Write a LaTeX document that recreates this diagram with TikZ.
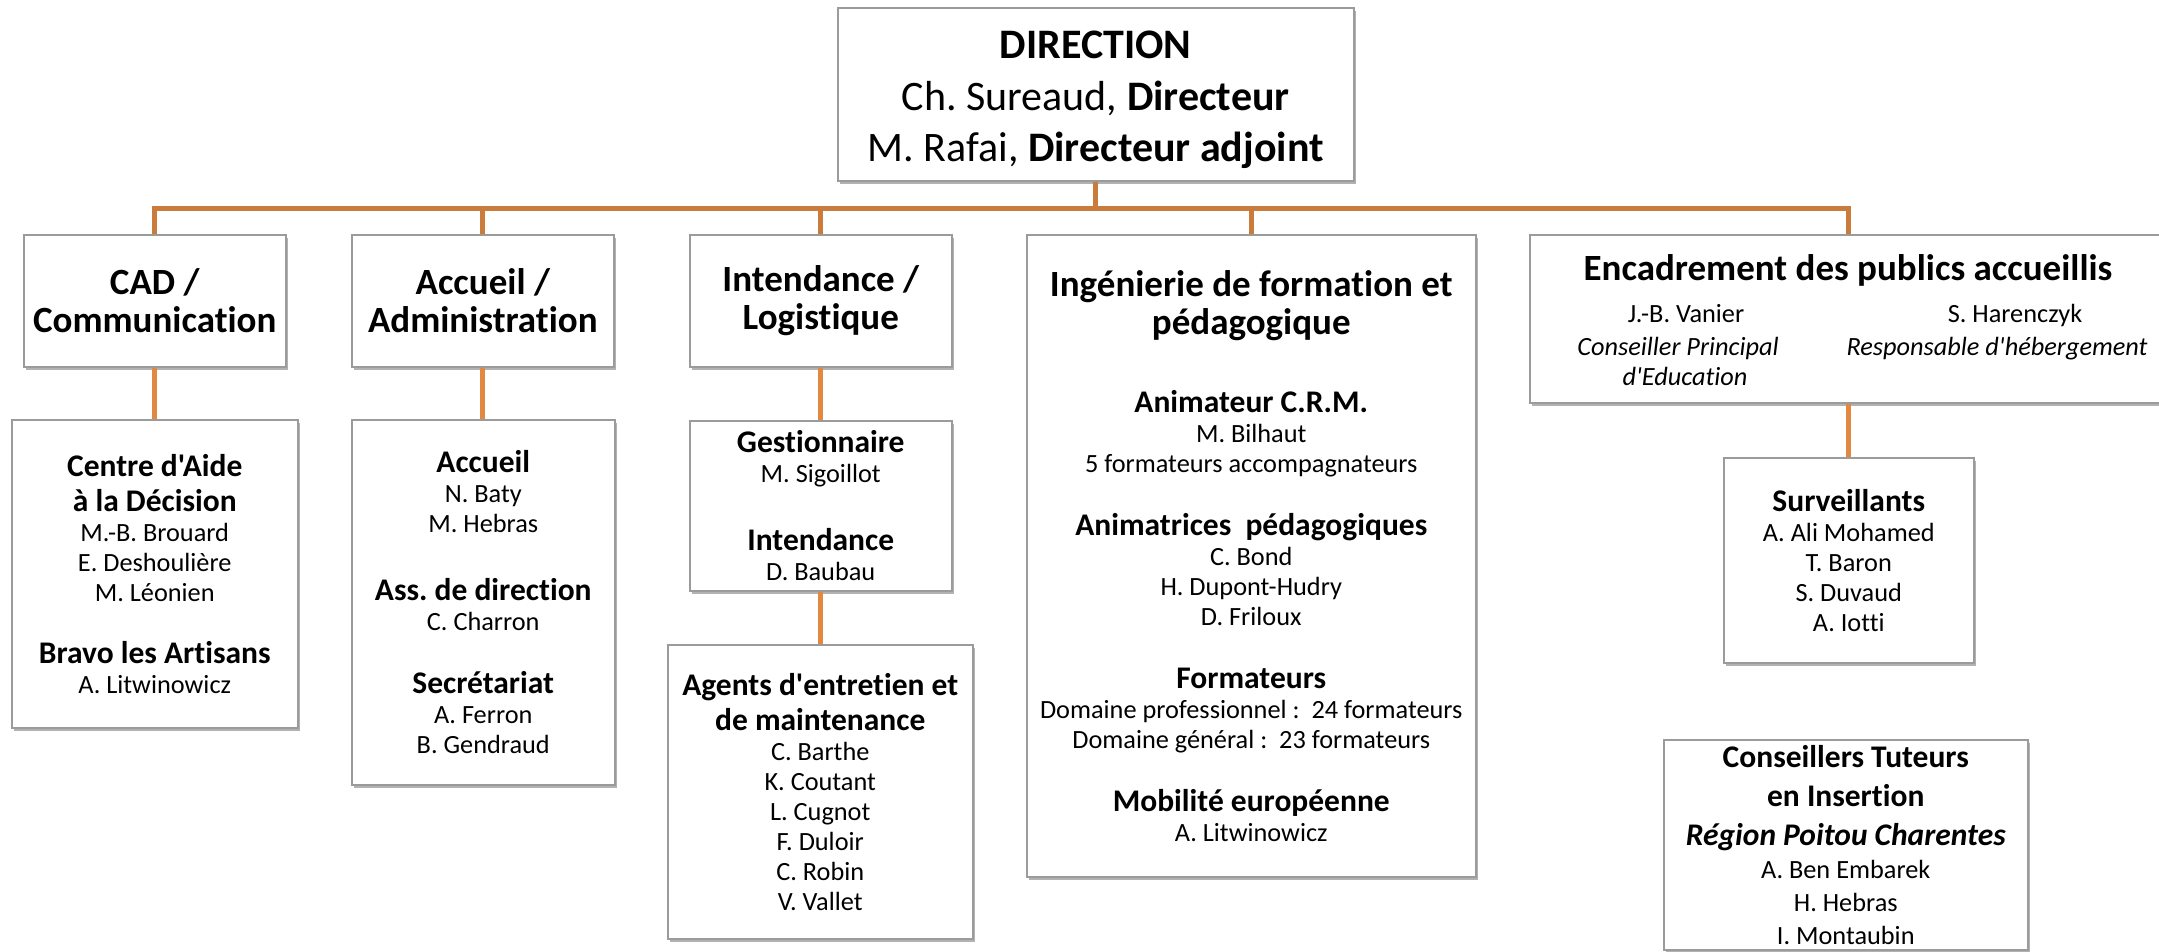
\documentclass[tikz,border=0pt]{standalone}
\usepackage{fontspec}
\setmainfont{Carlito}[Ligatures={NoCommon,TeXOff}]
\usetikzlibrary{shadows}
\definecolor{lineA}{RGB}{201,124,60}
\definecolor{lineB}{RGB}{226,136,64}
\definecolor{boxline}{RGB}{155,155,155}
\newcommand\hd[1]{{\fontsize{31.5}{35}\selectfont\bfseries #1\par}}
\newcommand\nm[1]{{\fontsize{26.3}{30}\selectfont #1\par}}
\newcommand\ttl[1]{{\fontsize{37}{38}\selectfont\bfseries #1\par}}
\newcommand\gp[1]{\vspace*{#1pt}}
\newcommand\pb[2]{\parbox{#1pt}{\centering #2}}
\tikzset{
  box/.style={draw=boxline, line width=1.5pt, fill=white, inner sep=0pt,
    anchor=north west,
    drop shadow={shadow xshift=2pt, shadow yshift=-3.5pt, opacity=0.3, fill=black}},
  conA/.style={draw=lineA, line width=5pt},
  conB/.style={draw=lineB, line width=5pt},
  txt/.style={inner sep=0pt, anchor=base},
  nmf/.style={font=\fontsize{26.3}{30}\selectfont},
  itf/.style={font=\fontsize{26.3}{30}\selectfont\itshape},
}
\begin{document}
\frenchspacing
\begin{tikzpicture}[x=1pt,y=-1pt]
\useasboundingbox (0,0) rectangle (2159,951);
\fill[white] (0,0) rectangle (2159,951);
\clip (0,0) rectangle (2159,951);

% direction
\node[box, minimum width=516pt, minimum height=173pt] (dir) at (837,7)
  {\pb{516}{\gp{12}{\fontsize{42}{51.5}\selectfont \textbf{DIRECTION}\par
   Ch. Sureaud, \textbf{Directeur}\par
   M. Rafai, \textbf{Directeur adjoint}\par}}};

% level 1
\node[box, minimum width=262pt, minimum height=132pt] (cad) at (23,234)
  {\pb{262}{\ttl{CAD /}\ttl{Communication}}};
\node[box, minimum width=262pt, minimum height=132pt] (acc) at (351,234)
  {\pb{262}{\ttl{Accueil /}\ttl{Administration}}};
\node[box, minimum width=262pt, minimum height=132pt] (int) at (689,234)
  {\pb{262}{\ttl{Intendance /}\ttl{Logistique}}};
\node[box, minimum width=449pt, minimum height=642pt] (ing) at (1026,234)
  {\pb{449}{\ttl{Ingénierie de formation et}\ttl{pédagogique}\gp{43}%
   \hd{Animateur C.R.M.}\nm{M. Bilhaut}\nm{5 formateurs accompagnateurs}\gp{28}%
   \hd{Animatrices\ \ pédagogiques}\nm{C. Bond}\nm{H. Dupont-Hudry}\nm{D. Friloux}\gp{28}%
   \hd{Formateurs}\nm{Domaine professionnel :\ \ 24 formateurs}\nm{Domaine général :\ \ 23 formateurs}\gp{28}%
   \hd{Mobilité européenne}\nm{A. Litwinowicz}}};
\node[box, minimum width=638pt, minimum height=168pt] (enc) at (1529,234) {};
\node[txt, font=\fontsize{37}{40}\selectfont\bfseries] (enct) at (1848,280) {Encadrement des publics accueillis};
\node[txt, nmf] (encla) at (1686,322) {J.-B. Vanier};
\node[txt, itf] (enclb) at (1678,355) {Conseiller Principal};
\node[txt, itf] (enclc) at (1685,385) {d'Education};
\node[txt, nmf] (encra) at (2015,322) {S. Harenczyk};
\node[txt, itf] (encrb) at (1997,355) {Responsable d'hébergement};

% level 2
\node[box, minimum width=286pt, minimum height=308pt] (cadc) at (11,419)
  {\pb{286}{\hd{Centre d'Aide}\hd{à la Décision}\nm{M.-B. Brouard}\nm{E. Deshoulière}\nm{M. Léonien}\gp{27}%
   \hd{Bravo les Artisans}\nm{A. Litwinowicz}}};
\node[box, minimum width=263pt, minimum height=365pt] (accc) at (351,419)
  {\pb{263}{\hd{Accueil}\nm{N. Baty}\nm{M. Hebras}\gp{33}\hd{Ass. de direction}\nm{C. Charron}\gp{28}%
   \hd{Secrétariat}\nm{A. Ferron}\nm{B. Gendraud}}};
\node[box, minimum width=262pt, minimum height=170pt] (gest) at (689,420)
  {\pb{262}{\hd{Gestionnaire}\nm{M. Sigoillot}\gp{33}\hd{Intendance}\nm{D. Baubau}}};
\node[box, minimum width=305pt, minimum height=294pt] (agents) at (667,644)
  {\pb{305}{\hd{Agents d'entretien et}\hd{de maintenance}\nm{C. Barthe}\nm{K. Coutant}\nm{L. Cugnot}%
   \nm{F. Duloir}\nm{C. Robin}\nm{V. Vallet}}};
\node[box, minimum width=250pt, minimum height=205pt] (surv) at (1723,457)
  {\pb{250}{\hd{Surveillants}\nm{A. Ali Mohamed}\nm{T. Baron}\nm{S. Duvaud}\nm{A. Iotti}}};
\node[box, minimum width=364pt, minimum height=210pt] (cons) at (1663,739)
  {\pb{364}{{\fontsize{31.5}{39}\selectfont\bfseries Conseillers Tuteurs\par en Insertion\par
    {\itshape Région Poitou Charentes\par}}%
   {\fontsize{26.3}{33}\selectfont A. Ben Embarek\par H. Hebras\par I. Montaubin\par}}};

% connectors
\coordinate (hm) at (1095,208);
\draw[conA] (dir.south) -- (dir.south |- hm);
\draw[conA] (cad.north) |- (enc.north |- hm) -- (enc.north);
\draw[conA] (acc.north) -- (acc.north |- hm);
\draw[conA] (int.north) -- (int.north |- hm);
\draw[conA] (ing.north) -- (ing.north |- hm);
\draw[conB] (cad.south) -- (cad.south |- cadc.north);
\draw[conB] (acc.south) -- (acc.south |- accc.north);
\draw[conB] (int.south) -- (int.south |- gest.north);
\draw[conB] (gest.south) -- (gest.south |- agents.north);
\draw[conB] (enc.south) -- (enc.south |- surv.north);
\end{tikzpicture}
\end{document}
